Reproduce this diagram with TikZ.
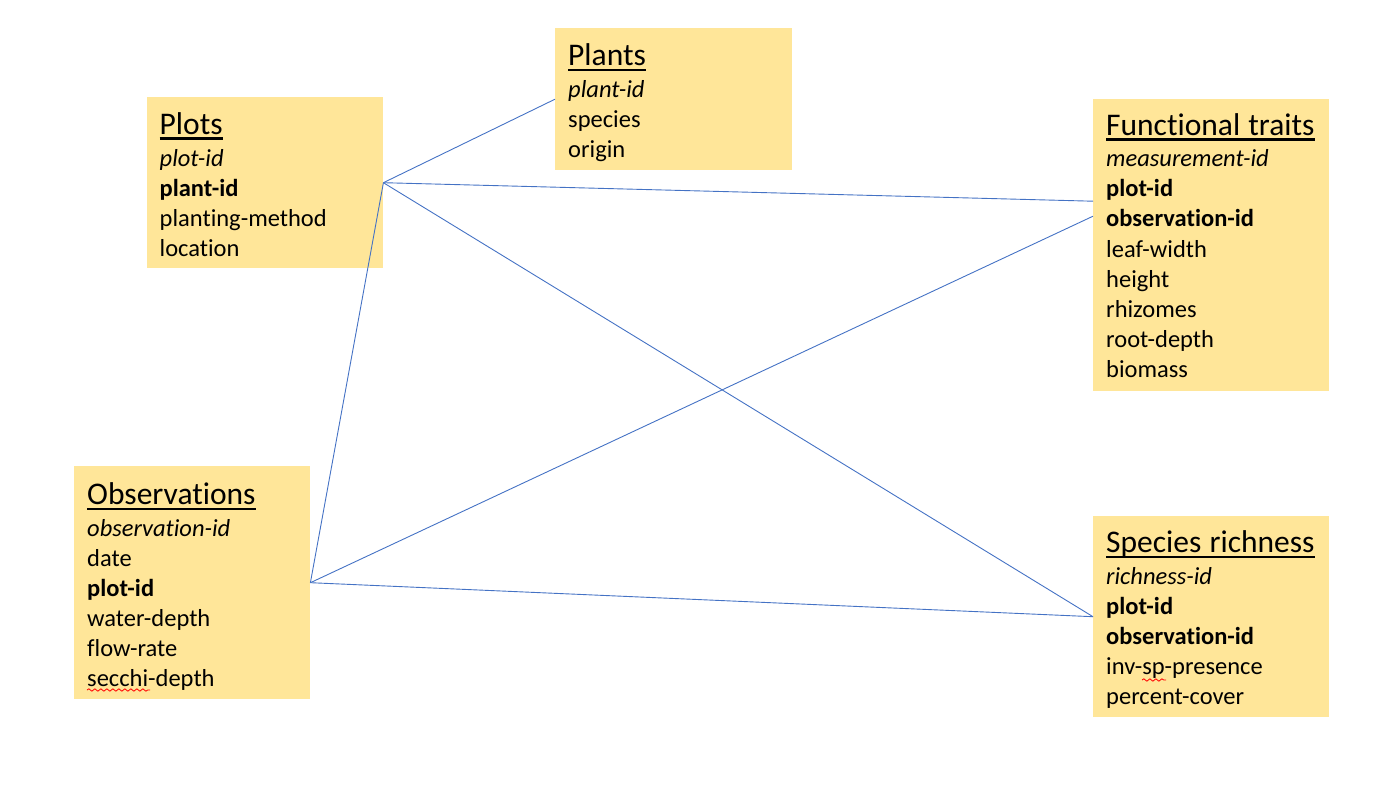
\documentclass[tikz,border=0pt]{standalone}
\usepackage{fontspec}
\setmainfont{Carlito}[Ligatures=NoCommon]
\usetikzlibrary{positioning,decorations.pathmorphing}

\definecolor{boxgold}{HTML}{FFE699}
\definecolor{relblue}{HTML}{4472C4}
\newcommand\enthead[1]{{\fontsize{31.5}{30}\selectfont\setbox0\hbox{#1}\rlap{\rule[-5.7pt]{\wd0}{2.3pt}}\box0}\\[2pt]}

\tikzset{
  entbox/.style={fill=boxgold, draw=none, anchor=north west, inner sep=0pt, minimum width=236pt},
  enttext/.style={anchor=base west, inner sep=0pt, text width=225pt, align=left, font=\fontsize{24.5}{30}\selectfont},
  rel/.style={draw=relblue, line width=0.9pt},
  typo/.style={draw=red, line width=0.8pt, decorate, decoration={snake, amplitude=1.2pt, segment length=6pt}}
}

\begin{document}
\begin{tikzpicture}[x=1pt, y=-1pt]
				\useasboundingbox (0,0) rectangle (1376,800);
				% boxes
				\node[entbox, minimum height=171pt] (plots) at (147,97) {};
				\node[entbox, minimum height=142pt, minimum width=237pt] (plants) at (555,28) {};
				\node[entbox, minimum height=292pt] (ft) at (1093,99) {};
				\node[entbox, minimum height=233pt] (obs) at (74,466) {};
				\node[entbox, minimum height=201pt] (sr) at (1093,516) {};
				
				% texts
				\node[enttext] (plotsT) at (159.5,134) {\enthead{Plots} \textit{plot-id}\\ \textbf{plant-id}\\ planting-method\\ location};
				\node[enttext] (plantsT) at (568,65.5) {\enthead{Plants} \textit{plant-id}\\ species\\ origin};
				\node[enttext] (ftT) at (1106,135) {\enthead{Functional traits} \textit{measurement-id}\\ \textbf{plot-id}\\ \textbf{observation-id}\\ leaf-width\\ height\\ rhizomes\\ root-depth\\ biomass};
				\node[enttext] (obsT) at (87,504.5) {\enthead{Observations} \textit{observation-id}\\ date\\ \textbf{plot-id}\\ water-depth\\ flow-rate\\ secchi-depth};
				\node[enttext] (srT) at (1106,552.5) {\enthead{Species richness} \textit{richness-id}\\ \textbf{plot-id}\\ \textbf{observation-id}\\ inv-sp-presence\\ percent-cover};
				
				% relations
				\draw[rel] (plots.east) -- (plants.west);
				\draw[rel] (plots.east) -- ([yshift=44pt]ft.west);
				\draw[rel] (plots.east) -- (sr.west);
				\draw[rel] (plots.east) -- (obs.east);
				\draw[rel] (obs.east) -- ([yshift=29pt]ft.west);
				\draw[rel] (obs.east) -- (sr.west);
				
				% spell-check marks
				\draw[typo] (87,690) -- (150,690);
				\draw[typo] (1142,680) -- (1166,680);
\end{tikzpicture}
\end{document}
